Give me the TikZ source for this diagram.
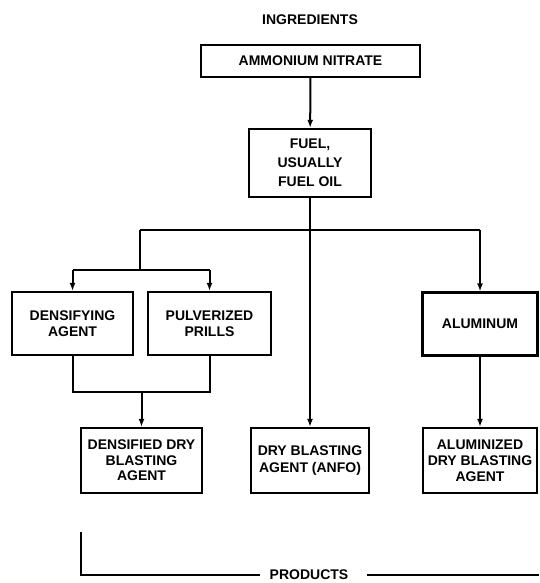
\documentclass[tikz,border=0pt]{standalone}
\usepackage{fontspec}
\setmainfont{Liberation Sans}
\usetikzlibrary{arrows.meta}
\begin{document}
\begin{tikzpicture}[x=1pt,y=-1pt,
  lbl/.style={font=\bfseries\fontsize{14}{16}\selectfont, inner sep=0pt},
  box/.style={draw, line width=2.3pt, align=center, inner sep=0pt, font=\bfseries\fontsize{14}{16.5}\selectfont},
  conn/.style={line width=2pt},
  arr/.style={conn, -{Latex[length=8pt,width=6pt]}}]
\useasboundingbox (0,0) rectangle (539,583);
\node[lbl] (ing) at (310,20) {INGREDIENTS};
\node[box, minimum width=219pt, minimum height=32pt] (an) at (310.5,61) {AMMONIUM NITRATE};
\node[box, minimum width=122pt, minimum height=68pt, font=\bfseries\fontsize{14}{19}\selectfont] (fuel) at (310,163) {FUEL,\\USUALLY\\FUEL OIL};
\node[box, minimum width=121pt, minimum height=63pt] (dens) at (72.5,323.5) {DENSIFYING\\AGENT};
\node[box, minimum width=123pt, minimum height=63pt] (pulv) at (209.5,323.5) {PULVERIZED\\PRILLS};
\node[box, minimum width=115pt, minimum height=63pt] (alu) at (480,324) {ALUMINUM};
\node[box, minimum width=121pt, minimum height=65pt, font=\bfseries\fontsize{14}{15.5}\selectfont] (dda) at (141.5,460.5) {DENSIFIED DRY\\BLASTING\\AGENT};
\node[box, minimum width=118pt, minimum height=65pt] (anfo) at (310,460.5) {DRY BLASTING\\AGENT (ANFO)};
\node[box, minimum width=114pt, minimum height=65pt, font=\bfseries\fontsize{14}{16}\selectfont] (alda) at (480,460.5) {ALUMINIZED\\DRY BLASTING\\AGENT};
\node[lbl] (prod) at (309,575) {PRODUCTS};
% connectors
\coordinate (j1) at (140,230);
\coordinate (j2) at (480,230);
\coordinate (jL) at (140,270);
\coordinate (m) at (141.5,392);
\coordinate (b1) at (81,532);
\coordinate (b2) at (81,575);
\coordinate (b3) at (539,575);
\draw[arr] (an) -- (fuel);
\draw[arr] (fuel) -- (anfo);
\draw[conn] (j1) -- (j2);
\draw[conn] (j1) -- (jL);
\draw[conn] (jL -| dens.north) -- (jL -| pulv.north);
\draw[arr] (jL -| dens.north) -- (dens.north);
\draw[arr] (jL -| pulv.north) -- (pulv.north);
\draw[arr] (j2) -- (alu.north);
\draw[conn] (dens.south) |- (m) -| (pulv.south);
\draw[arr] (m) -- (dda.north);
\draw[arr] (alu) -- (alda);
\draw[conn] (b1) -- (b2) -- ([xshift=-10pt]prod.west);
\draw[conn] ([xshift=19pt]prod.east) -- (b3);
\end{tikzpicture}
\end{document}
